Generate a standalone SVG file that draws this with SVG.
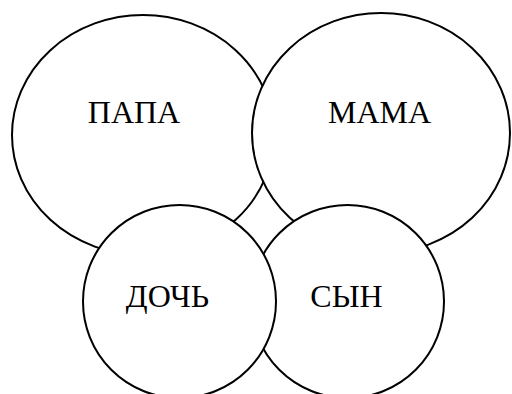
<svg xmlns="http://www.w3.org/2000/svg" width="512" height="394" viewBox="0 0 512 394">
<style>
.n{fill:#fff;stroke:#000;stroke-width:2}
.t{font-family:"Liberation Serif","Times New Roman",serif;font-size:32px;fill:#000;text-anchor:middle}
</style>
<rect width="512" height="394" fill="#fff"/>
<g id="papa"><ellipse class="n" cx="143" cy="135" rx="131" ry="120"/><text class="t" x="134" y="123">ПАПА</text></g>
<g id="mama"><ellipse class="n" cx="381" cy="133" rx="129" ry="120"/><text class="t" x="379.5" y="123">МАМА</text></g>
<g id="syn"><circle class="n" cx="347.5" cy="301.5" r="96.5"/><text class="t" x="346.5" y="307">СЫН</text></g>
<g id="doch"><circle class="n" cx="179.5" cy="301.5" r="96.5"/><text class="t" x="167.5" y="307">ДОЧЬ</text></g>
<g id="connectors"></g>
</svg>
